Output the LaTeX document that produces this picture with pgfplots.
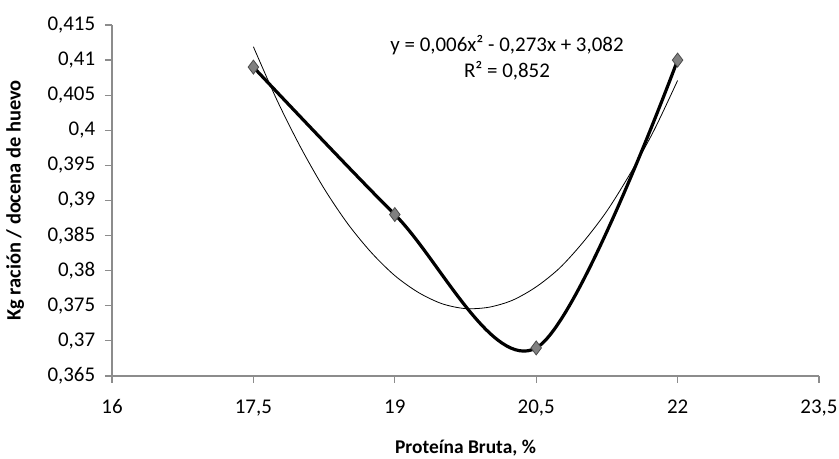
\documentclass[border=0pt]{standalone}
\usepackage{fontspec}
\setmainfont{Carlito}
\usepackage{pgfplots}
\pgfplotsset{compat=1.18}

\definecolor{axisgray}{RGB}{140,140,140}
\definecolor{markgray}{RGB}{128,128,128}

\begin{document}
\fontsize{20}{24}\selectfont
\begin{tikzpicture}[x=1bp,y=1bp]
\path[use as bounding box] (-112,-83) rectangle (727,376);
\begin{axis}[
    at={(0,0)}, anchor=south west,
    scale only axis, width=707bp, height=351bp,
    xmin=16, xmax=23.5, ymin=0.365, ymax=0.415,
    xtick={16,17.5,19,20.5,22,23.5},
    ytick={0.365,0.37,...,0.4151},
    axis x line=bottom, axis y line=left,
    axis line style={axisgray, line width=1.2pt, -},
    tick style={axisgray, line width=1.2pt},
    tick align=outside, major tick length=7bp,
    /pgf/number format/assume math mode=true,
    /pgf/number format/use comma,
    yticklabel style={/pgf/number format/fixed, /pgf/number format/precision=3, xshift=-3bp},
    xticklabel style={/pgf/number format/fixed, /pgf/number format/precision=1, yshift=-10bp},
    ticklabel style={font=\fontsize{21}{25}\selectfont},
    xlabel={\textbf{Proteína Bruta, \%}},
    ylabel={\textbf{Kg ración / docena de huevo}},
    xlabel style={font=\fontsize{19.5}{23}\selectfont, yshift=-11bp},
    ylabel style={font=\fontsize{20.5}{24}\selectfont, yshift=10bp},
    clip=false,
]
% polynomial trend line
\addplot[black, line width=0.8pt, smooth] coordinates {
(17.5,0.4119) (17.75,0.4043) (18.0,0.3976) (18.25,0.3917) (18.5,0.3867)
(18.75,0.3826) (19.0,0.3793) (19.25,0.3769) (19.5,0.3753) (19.75,0.3746)
(20.0,0.3748) (20.25,0.3758) (20.5,0.3777) (20.75,0.3804) (21.0,0.3841)
(21.25,0.3885) (21.5,0.3939) (21.75,0.4000) (22.0,0.4071)
};
% observed data, smoothed line
\addplot[black, line width=3.2pt, smooth, tension=0.55,
    mark=diamond*, mark size=7bp,
    mark options={fill=markgray, draw=black!70, line width=0.8pt}] coordinates {
(17.5,0.409) (19,0.388) (20.5,0.369) (22,0.410)
};
\node[align=center, font=\fontsize{21}{26}\selectfont] at (axis cs:20.19,0.4103)
  {y = 0,006x² - 0,273x + 3,082\\R² = 0,852};
\end{axis}
\end{tikzpicture}
\end{document}
